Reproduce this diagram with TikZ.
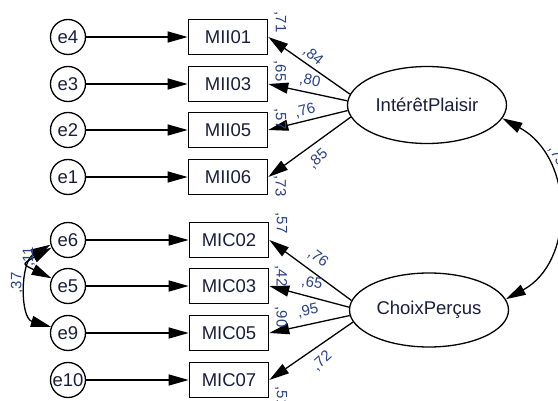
\documentclass[tikz,border=0pt]{standalone}
\usepackage{fontspec}
\setmainfont{Liberation Sans}
\usetikzlibrary{shapes.geometric,arrows.meta}
\definecolor{txt}{RGB}{25,30,60}
\definecolor{coef}{RGB}{40,65,135}
\begin{document}
\begin{tikzpicture}[x=1pt,y=-1pt,
  obs/.style={draw,line width=1.6pt,minimum width=79pt,minimum height=35pt,inner sep=0pt,font=\fontsize{18.5}{20}\selectfont,text=txt},
  err/.style={draw,circle,line width=1.3pt,minimum size=35pt,inner sep=0pt,font=\fontsize{18.5}{20}\selectfont,text=txt},
  lat/.style={draw,ellipse,line width=1.3pt,minimum width=159pt,minimum height=77pt,inner sep=0pt,font=\fontsize{18.5}{20}\selectfont,text=txt},
  arr/.style={line width=1.3pt,-{Triangle[length=20pt,width=11pt]}},
  biarr/.style={line width=1.3pt,{Triangle[length=20pt,width=11pt]}-{Triangle[length=20pt,width=11pt]}},
  coefl/.style={font=\fontsize{15}{16}\selectfont,text=coef,inner sep=0pt}]
\useasboundingbox (0,0) rectangle (558,401);
\clip (0,0) rectangle (558,401);
% error terms
\node[err] (e4) at (68,37) {e4};
\node[err] (e3) at (68,84) {e3};
\node[err] (e2) at (68,130) {e2};
\node[err] (e1) at (68,177) {e1};
\node[err] (e6) at (68,240) {e6};
\node[err] (e5) at (68,286) {e5};
\node[err] (e9) at (68,333) {e9};
\node[err] (e10) at (68,380) {e10};
% observed
\node[obs] (m1) at (228,37) {MII01};
\node[obs] (m3) at (228,84) {MII03};
\node[obs] (m5) at (228,130) {MII05};
\node[obs] (m6) at (228,177) {MII06};
\node[obs] (c2) at (229,240) {MIC02};
\node[obs] (c3) at (229,286) {MIC03};
\node[obs] (c5) at (229,333) {MIC05};
\node[obs] (c7) at (229,380) {MIC07};
% latent
\node[lat] (ip) at (427,105) {IntérêtPlaisir};
\node[lat,minimum height=74pt] (cp) at (429,310) {ChoixPerçus};
% error arrows
\foreach \a/\b in {e4/m1,e3/m3,e2/m5,e1/m6,e6/c2,e5/c3,e9/c5,e10/c7}
  \draw[arr] (\a.east) -- (\b.west);
% loadings
\draw[arr] (ip.172) -- (m1.east);
\draw[arr] (ip.177) -- (m3.east);
\draw[arr] (ip.184) -- (m5.east);
\draw[arr] (ip.189) -- (m6.east);
\draw[arr] (cp.173) -- (c2.east);
\draw[arr] (cp.178) -- (c3.east);
\draw[arr] (cp.184) -- (c5.east);
\draw[arr] (cp.189) -- (c7.east);
% covariances
\draw[biarr] (ip.-10) .. controls (575,158) and (575,262) .. (cp.8);
\draw[biarr] (e6.205) .. controls (22,264) .. (e5.155);
\draw[biarr] (e6.195) .. controls (20,262) and (20,318) .. (e9.160);
% loading labels
\node[coefl,rotate=-40] (l1) at (313,56) {,84};
\node[coefl,rotate=-12] (l3) at (310,81) {,80};
\node[coefl,rotate=15] (l5) at (305,111) {,76};
\node[coefl,rotate=42] (l6) at (318,159) {,85};
\node[coefl,rotate=-37] (k2) at (318,258) {,76};
\node[coefl,rotate=-10] (k3) at (312,283) {,65};
\node[coefl,rotate=12] (k5) at (308,311) {,95};
\node[coefl,rotate=42] (k7) at (322,361) {,72};
% squared multiple correlations
\node[coefl,rotate=-90] (r1) at (280,22) {,71};
\node[coefl,rotate=-90] (r3) at (280,71) {,65};
\node[coefl,rotate=-90] (r5) at (280,119) {,57};
\node[coefl,rotate=-90] (r6) at (280,186) {,73};
\node[coefl,rotate=-90] (s2) at (281,223) {,57};
\node[coefl,rotate=-90] (s3) at (281,276) {,42};
\node[coefl,rotate=-90] (s5) at (281,317) {,90};
\node[coefl,rotate=-90] (s7) at (281,397) {,51};
% covariance labels
\node[coefl,rotate=-62] (v1) at (557,156) {,75};
\node[coefl,rotate=90] (v2) at (29,257) {,11};
\node[coefl,rotate=90] (v3) at (17,283) {,37};
\end{tikzpicture}
\end{document}
